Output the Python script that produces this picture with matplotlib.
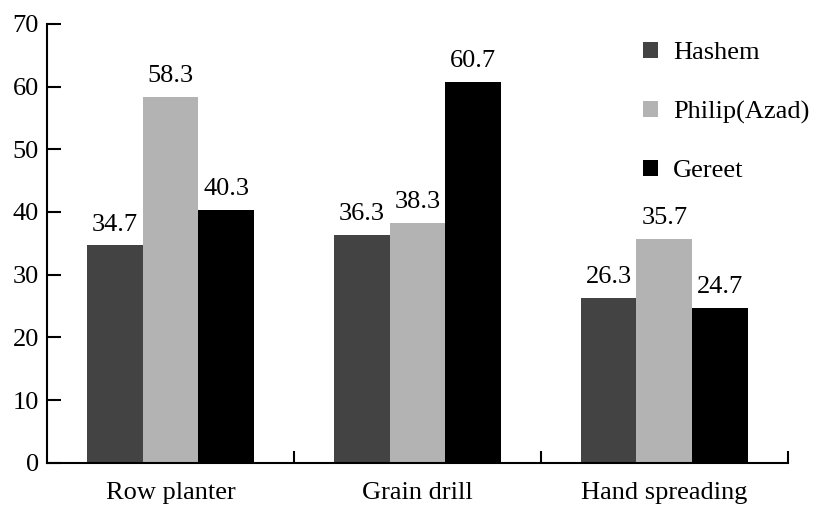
import matplotlib
matplotlib.use("Agg")
import matplotlib.pyplot as plt
import numpy as np

# Data
categories = ["Row planter", "Grain drill", "Hand spreading"]
series_names = ["Hashem", "Philip(Azad)", "Gereet"]
hashem = [34.7, 36.3, 26.3]
philip = [58.3, 38.3, 35.7]
gereet = [40.3, 60.7, 24.7]
colors = ["#434343", "#b3b3b3", "#000000"]

plt.rcParams["font.family"] = ["Liberation Serif", "DejaVu Serif"]

fig = plt.figure(figsize=(8.13, 5.07), dpi=100)
ax = fig.add_axes([0.058, 0.087, 0.911, 0.866])

x = np.arange(len(categories))
width = 0.226
for i, (vals, name, col) in enumerate(zip([hashem, philip, gereet], series_names, colors)):
    pos = x + (i - 1) * width
    ax.bar(pos, vals, width=width, color=col, label=name)
    for px, v in zip(pos, vals):
        ax.annotate(f"{v:.1f}", (px, v), xytext=(0, 7), textcoords="offset points",
                    ha="center", va="bottom", fontsize=19)

ax.set_xlim(-0.5, 2.5)
ax.set_ylim(0, 70)
ax.set_yticks(range(0, 71, 10))
ax.tick_params(axis="y", direction="in", length=10, width=1.5, labelsize=19, pad=6)

ax.set_xticks(x)
ax.set_xticklabels(categories)
ax.tick_params(axis="x", length=0, labelsize=19, pad=14)
ax.set_xticks([0.5, 1.5, 2.5], minor=True)
ax.tick_params(axis="x", which="minor", direction="in", length=9, width=1.5)

for s in ["top", "right"]:
    ax.spines[s].set_visible(False)
for s in ["left", "bottom"]:
    ax.spines[s].set_linewidth(1.5)

ax.legend(loc="upper left", bbox_to_anchor=(0.791, 0.918), bbox_transform=fig.transFigure,
          frameon=False, fontsize=19, borderpad=0, borderaxespad=0,
          handlelength=0.57, handleheight=0.57, handletextpad=0.57, labelspacing=1.38)

fig.savefig("out.png", dpi=100)
